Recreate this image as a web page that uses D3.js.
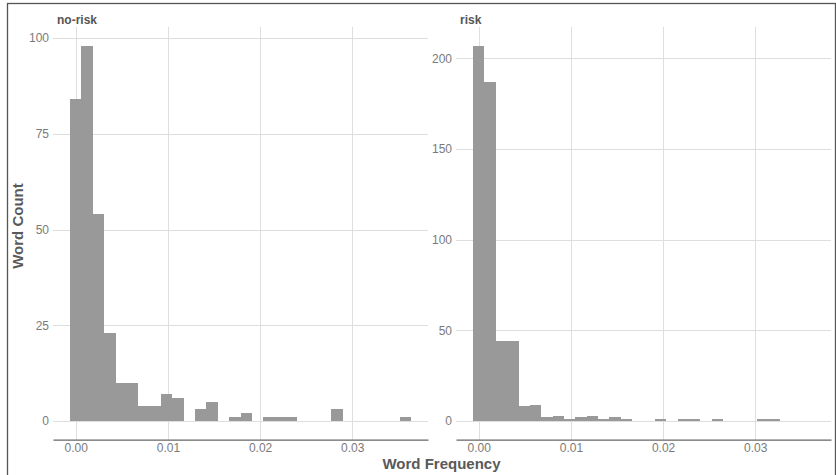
<!DOCTYPE html>
<html>
<head>
<meta charset="utf-8">
<script src="https://cdn.jsdelivr.net/npm/d3@7"></script>
<style>
  body { margin: 0; background: #fff; }
  svg { display: block; font-family: "Liberation Sans", Arial, sans-serif; }
</style>
</head>
<body>
<svg id="chart"></svg>
<script>
// histogram bins (30 bins, centres)
const binWidth = 0.001233;
const binCenters = [0.000000, 0.001233, 0.002466, 0.003699, 0.004932, 0.006165, 0.007398, 0.008631,
                    0.009864, 0.011097, 0.012330, 0.013563, 0.014796, 0.016029, 0.017262, 0.018495,
                    0.019728, 0.020961, 0.022194, 0.023427, 0.024660, 0.025893, 0.027126, 0.028359,
                    0.029592, 0.030825, 0.032058, 0.033291, 0.034524, 0.035757];
const noRiskCounts = [84, 98, 54, 23, 10, 10, 4, 4, 7, 6, 0, 3, 5, 0, 1, 2, 0, 1, 1, 1, 0, 0, 0, 3, 0, 0, 0, 0, 0, 1];
const riskCounts   = [207, 187, 44, 44, 8, 9, 2, 3, 1, 2, 3, 1, 2, 1, 0, 0, 1, 0, 1, 1, 0, 1, 0, 0, 0, 1, 1, 0, 0, 0];
const panelNames = ["no-risk", "risk"];
const xTicks = [0, 0.01, 0.02, 0.03];
const noRiskTicks = [0, 25, 50, 75, 100];
const riskTicks = [0, 50, 100, 150, 200];

document.addEventListener("DOMContentLoaded", function() {
    const width = 836, height = 475;
    const svg = d3.select("#chart").attr("width", width).attr("height", height);

    // outer frame
    svg.append("rect").attr("x", 7.5).attr("y", 3.5).attr("width", 828).attr("height", 480)
       .attr("fill", "none").attr("stroke", "#555").attr("stroke-width", 1.3);

    const top = 27, bottom = 439.7;
    const panels = [
        { name: panelNames[0], counts: noRiskCounts, ticks: noRiskTicks, left: 53, right: 428 },
        { name: panelNames[1], counts: riskCounts, ticks: riskTicks, left: 456, right: 831 }
    ];

    // shared x range, expanded 5% like ggplot
    const lo = binCenters[0] - binWidth / 2, hi = binCenters[binCenters.length - 1] + binWidth / 2;
    const pad = (hi - lo) * 0.05;

    panels.forEach(function(p) {
        const g = svg.append("g");
        const x = d3.scaleLinear().domain([lo - pad, hi + pad]).range([p.left, p.right]);
        const maxC = d3.max(p.counts);
        const y = d3.scaleLinear().domain([-maxC * 0.05, maxC * 1.05]).range([bottom, top]);

        // grid
        g.selectAll(".hg").data(p.ticks).enter().append("line")
            .attr("x1", p.left).attr("x2", p.right)
            .attr("y1", d => Math.round(y(d)) + 0.5).attr("y2", d => Math.round(y(d)) + 0.5)
            .attr("stroke", "#dedede").attr("stroke-width", 1);
        g.selectAll(".vg").data(xTicks).enter().append("line")
            .attr("x1", d => Math.round(x(d)) + 0.5).attr("x2", d => Math.round(x(d)) + 0.5)
            .attr("y1", top).attr("y2", bottom)
            .attr("stroke", "#dedede").attr("stroke-width", 1);

        // bars
        const bins = binCenters.map((c, i) => ({ c: c, n: p.counts[i] })).filter(d => d.n > 0);
        g.selectAll("rect.bar").data(bins).enter().append("rect")
            .attr("class", "bar")
            .attr("x", d => x(d.c - binWidth / 2))
            .attr("width", d => x(d.c + binWidth / 2) - x(d.c - binWidth / 2))
            .attr("y", d => y(d.n))
            .attr("height", d => y(0) - y(d.n))
            .attr("fill", "#999999")
            .attr("shape-rendering", "crispEdges");

        // x axis
        const xAxis = g.append("g").attr("transform", "translate(0," + bottom + ")")
            .call(d3.axisBottom(x).tickValues(xTicks).tickFormat(d3.format(".2f"))
                  .tickSize(0).tickSizeOuter(0).tickPadding(4));
        xAxis.select(".domain").attr("stroke", "#666").attr("stroke-width", 1.2);
        xAxis.selectAll("text").attr("fill", "#7a7a7a").style("font-size", "12px");

        // y axis
        const yAxis = g.append("g").attr("transform", "translate(" + p.left + ",0)")
            .call(d3.axisLeft(y).tickValues(p.ticks).tickSize(0).tickPadding(4));
        yAxis.select(".domain").remove();
        yAxis.selectAll("text").attr("fill", "#7a7a7a").style("font-size", "12px");

        // strip label
        g.append("text").attr("x", p.left + 4).attr("y", 23.5)
            .attr("fill", "#555").style("font-size", "12px").style("font-weight", "bold")
            .text(p.name);
    });

    svg.append("text")
        .attr("transform", "translate(23,226) rotate(-90)")
        .attr("text-anchor", "middle")
        .attr("fill", "#595959").style("font-size", "15px").style("font-weight", "bold")
        .text("Word Count");

    svg.append("text")
        .attr("x", 441.5).attr("y", 469)
        .attr("text-anchor", "middle")
        .attr("fill", "#595959").style("font-size", "15px").style("font-weight", "bold")
        .text("Word Frequency");
});
</script>
</body>
</html>
